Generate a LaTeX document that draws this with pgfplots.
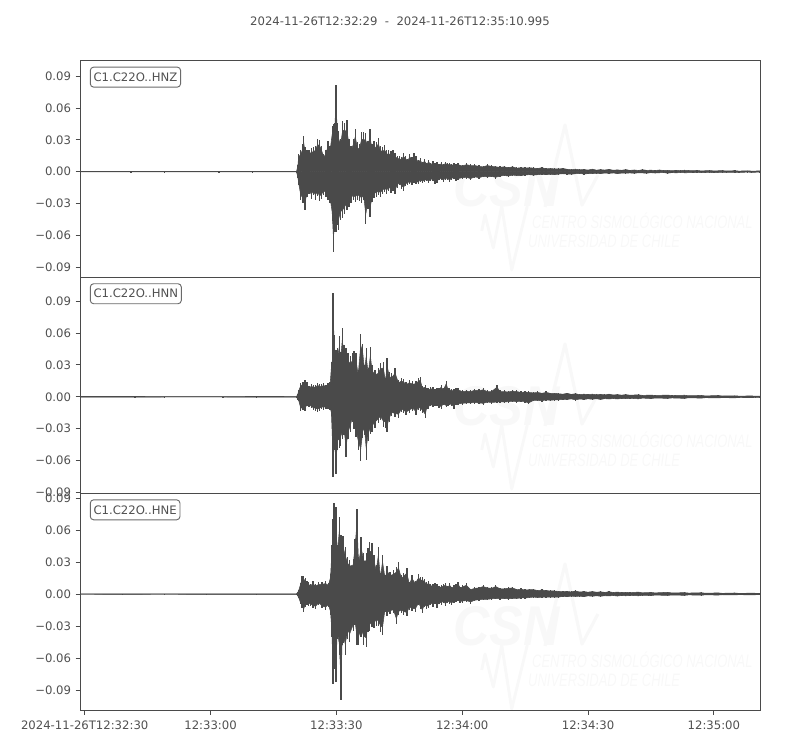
\documentclass[border=0pt]{standalone}
\usepackage{pgfplots}
\usepackage{pgfplotstable}
\usepackage{fontspec}
\pgfplotsset{compat=1.18}
\setmainfont{DejaVu Sans}
\newfontfamily\wmfont{Liberation Sans}
\definecolor{ink}{HTML}{4A4A4A}
\definecolor{txt}{HTML}{505050}
\definecolor{wm}{HTML}{F8F8F8}
\definecolor{boxc}{HTML}{6A6A6A}

% t = seconds after 12:32:29; up, lo = envelope of the trace in units of 0.001
\pgfplotstableread{
t up lo
0 .3 -.3
12 .2 -.2
20 .4 -.4
33 .2 -.2
41 .4 -.4
51.5 .3 -.3
51.8 6 -6
52 16.6 -13
52.5 20 -27
53 26 -30
53.2 33.8 -28
53.5 23 -36.6
54 20 -24
54.5 20.6 -21
55 22 -26
55.5 23 -22.5
56 24.4 -26.6
56.5 31 -23
57 30 -28
57.5 24 -25.7
58 16.6 -22
58.5 20.6 -24
59 29 -27
59.5 24.4 -30
60 43 -47
60.3 45 -76
60.6 46 -57
60.9 81.4 -57
61.2 46 -50.7
61.5 38.5 -55
62 30.7 -46
62.5 48 -44
63 46 -40
63.5 48.5 -36.6
64 30.7 -33.5
64.5 24.4 -30
65 30.7 -27
65.5 40 -29
66 27.5 -26.3
66.5 26 -28
67 37 -30
67.5 37 -27
68 36 -49
68.5 29 -35
69 40 -43
69.5 26 -29
70 29 -25
70.5 27.5 -24
71 32 -22.5
71.5 24.4 -24
72 23 -21
72.5 25 -19.4
73 20 -21
73.5 20.6 -18
74 19 -20
74.5 20 -18
75 17.5 -21
75.5 15 -15
76 15 -13
76.5 13.5 -16
77 17.5 -18
77.5 15 -14
78 12 -12.5
78.5 17 -11.6
79 13.5 -13
79.5 17.5 -11
80 15 -11.6
80.5 11 -12
81 13 -9.5
81.5 9 -11
82 12 -10
82.5 8.5 -9
83 11 -11
83.5 8 -8.5
84 10 -9
84.5 8.5 -12
85 9.5 -11
85.5 7.5 -8
86 9 -8
86.5 7 -9.5
87 9.5 -7.5
87.5 8 -8
88 8.5 -9.5
88.5 7 -7.5
89 8.5 -7
89.5 7 -8.5
90 8 -8
91 6.5 -7
92 8 -6.5
93 7 -8
94 7 -6
95 6 -7
96 5.5 -5.5
97 7 -6
98 6 -5.5
99 5.5 -6.5
100 5 -5
101 5.5 -4.5
102 4.5 -5
103 5.5 -4
104 4 -4.5
105 4.5 -4.5
106 4 -3.8
107 4.5 -3.5
108 4 -4
109 3.5 -3.5
110 4.5 -3
111 3.2 -3.5
112 3.5 -3
113 3.2 -3.5
114 3 -2.8
115 3.6 -2.4
116 2.7 -2.8
117 2.2 -3
118 2.8 -2.4
119 2.1 -2
120 2.4 -2.8
121 1.8 -2.2
122 2.8 -2.3
123 1.7 -1.8
124 2.3 -2.3
125 1.8 -1.6
126 2.6 -2
127 1.6 -1.5
128 2 -2.3
129 1.5 -1.7
130 2.3 -1.8
131 1.4 -1.5
132 1.9 -1.9
133 1.3 -1.3
134 2.2 -1.5
135 1.4 -1.8
136 1.7 -1.2
137 1.2 -1.6
138 1.9 -1.3
139 1.2 -1.1
140 1.5 -1.8
141 1 -1.1
142 1.5 -1.4
143 1.1 -1
144 1.6 -1.3
146 1 -1.2
147 1.4 -.8
148 .8 -1.1
150 1.3 -.9
151 .8 -1.2
153 1.2 -.8
154 .7 -1
156 1.1 -.7
157 .6 -.9
159 1 -.6
160 .6 -.8
162 .8 -.6
}\tableHNZ

\pgfplotstableread{
t up lo
0 .4 -.4
13 .4 -.4
20 .2 -.2
34 .2 -.2
42 .4 -.4
51.5 .3 -.3
51.8 3 -3
52 6.5 -4
52.5 12.8 -13
53 14 -12.5
53.5 15.5 -13
54 14 -9
54.5 9.7 -9.5
55 12 -10.6
55.5 11 -12.5
56 11 -13
56.5 13 -14
57 12 -13
57.5 12 -11.5
58 13 -12
58.5 11.5 -11
59 13 -11
59.5 14 -12
59.8 33 -18
60 36 -42
60.2 98 -75
60.5 58 -50
60.9 44 -73
61.3 46 -50
61.7 57 -48
62 42 -46
62.4 65 -40
62.8 49 -36
63.3 46 -57
63.8 41 -40
64.3 38 -33
64.8 41 -24
65.2 43 -30
65.7 41 -38
66.2 25 -50
66.8 59 -60
67.3 50 -39
67.7 30 -36
68.1 46 -59
68.6 27 -42
69.1 47 -35
69.5 30 -33
70.2 25 -29
71 27 -25
71.5 32 -22
72.2 33 -28
72.7 17.5 -29
73.1 36 -33
73.6 23 -24
74.2 22 -18
75 27 -19
75.8 16 -20
76.5 18 -14
77 17 -15
77.6 14 -17.5
78.4 16 -15
79.2 14.5 -13
80 15 -17
80.5 17.5 -12
81 19 -13
81.5 10 -15
82.2 11 -20
82.6 8.5 -11
83 8 -11
83.5 9 -9
84 9 -10
84.5 7 -8.5
85 8 -9
85.5 8.5 -10.5
86 11 -11
86.5 8 -8
87.2 15 -10
87.6 8 -8.5
88 8 -8
88.5 7 -9
89 7 -11
89.5 8.5 -7.5
90 8 -8
91 6 -7.5
92 6.5 -7
93 6 -7
94 7.5 -6.5
95 7 -7
96 8 -7.5
97 6 -6
98 6 -6.5
99.3 11 -6
100 6 -5.5
101 6 -6
102 5.5 -5.5
103 6.5 -5
104 6 -5.5
105 5 -5
106 5.5 -5.5
106.8 5 -7
108 4.5 -4
109 5 -4
110 4 -4.5
111 5 -3.5
112 4 -4
113 4 -3.5
114 3.5 -3.5
115 3 -2.8
116 4 -3
117 2.8 -2.4
118 3.5 -3.5
119 2.5 -2.5
120 3 -3
121 2.4 -2.3
122 3 -2.8
123 2.3 -2.2
124 2.8 -3
125 2.2 -2.1
126 3 -2.5
127 2.1 -2
128 2.5 -2.5
129 1.9 -1.9
130 2.5 -2.2
131 1.8 -1.7
133 2.3 -2.3
134 1.6 -1.5
136 2 -2
137 1.5 -1.4
140 2 -1.8
141 1.4 -1.3
144 1.8 -1.8
145 1.2 -1.1
148 1.6 -1.5
149 1 -1
152 1.5 -1.3
153 .9 -.9
156 1.2 -1.2
157 .8 -.7
160 1 -1
161 .7 -.6
162 .8 -.6
}\tableHNN

\pgfplotstableread{
t up lo
0 .2 -.2
10 .3 -.3
20 .2 -.2
30 .3 -.3
42 .3 -.3
51.5 .3 -.3
51.8 2 -2
52 4 -4
52.4 10 -9
52.8 17 -13
53.2 17 -17
53.6 15 -12
54 12 -10
54.4 11 -11
54.8 9 -11
55.4 12 -13
56 9 -14
56.8 11 -10
57.6 11 -13.5
58.4 12 -15
59.1 10 -12
59.6 19 -20
59.9 46 -40
60.2 70 -84
60.4 85 -70
60.9 82 -82
61.2 46 -42
61.7 72 -57
62.1 55 -99.5
62.4 54 -48
62.6 54 -46
63.1 44 -57
63.7 35 -42
64.2 32 -45
65 33 -35
65.4 52 -29
65.9 80 -48
66.3 35 -48
66.9 53 -40
67.5 38 -48
68.1 38 -50
68.5 43 -36
68.9 49 -35
69.5 48 -31
70 37 -32
70.5 27 -30
71 44 -30
71.5 19 -36
72 37 -38
72.6 18 -17
73.1 26 -21
73.8 21 -19
74.6 22.5 -18
75.3 25 -28
75.8 30 -20
76.5 18 -18
77 20 -20
77.8 24 -21
78.4 11 -15
79 18 -16
79.8 12 -17
80.6 18.5 -10
81 16 -14
81.5 16 -18
82 14 -12
82.5 11 -14
83 12 -13
83.5 9.5 -10
84 9 -12
84.5 10.5 -9
85 9 -13
85.5 7.5 -9
86 8 -10
86.5 9 -8
87 10 -11
87.5 7.5 -8
88 10 -9
88.5 7 -10
89 8 -8
89.5 9 -7.5
90 11.5 -7
90.5 7 -8.5
91 8 -8
92 10 -7.5
93 5 -9
94 6.5 -7
95 7 -6.5
96 8.5 -6
97 7 -6
98 6.5 -5.5
99 8.5 -5
100 6 -5.5
101 6 -5
102 6.5 -5.5
103 7 -5
104 5 -5
105 5.5 -4.5
106 4.5 -4.5
107 5 -4
108 5 -3.5
109 4 -4
110 4.5 -3.5
111 4 -3.5
112 3.5 -3.5
113 3.5 -3.5
114 3 -3.5
115 2.6 -2.6
116 3 -3
117 2.4 -2.4
118 3.5 -2.8
119 2.3 -2.4
120 2.8 -3
121 2.1 -2.1
122 2.8 -2.5
123 2.1 -2
124 2.5 -2.5
125 1.9 -1.9
126 2.6 -2.2
127 1.8 -1.7
128 2.2 -2.3
129 1.7 -1.6
130 2 -2
131 1.5 -1.5
133 2.2 -2
134 1.4 -1.4
136 1.8 -1.8
137 1.3 -1.2
140 2 -1.6
141 1.2 -1.1
144 1.6 -1.5
145 1.1 -1
148 1.5 -1.4
149 .9 -.9
152 1.3 -1.2
153 .8 -.8
156 1.2 -1
157 .7 -.7
160 1 -1
162 .7 -.6
}\tableHNE

\pgfplotsset{
  panel/.style={
    scale only axis, anchor=south west, width=509.6pt,
    xmin=0, xmax=161.995,
    axis line style={color=ink, line width=.7pt},
    tick style={color=ink, line width=.6pt},
    major tick length=3.6pt,
    tick align=outside,
    ytick pos=left, xtick pos=bottom,
    ytick={-0.09,-0.06,-0.03,0,0.03,0.06,0.09},
    yticklabels={−0.09,−0.06,−0.03,0.00,0.03,0.06,0.09},
    tick label style={font=\fontsize{8.75}{10}\selectfont, color=txt},
    xticklabel style={yshift=-1.2pt},
    clip=true,
  },
  core/.style={draw=ink, fill=ink, line width=.4pt, sharp plot, line join=bevel},
  needle/.style={draw=ink, line width=1pt, ycomb, no marks},
}
\newcommand{\stamp}[1]{\node[draw=boxc, rounded corners=2.5pt, line width=.7pt, fill=white,
    anchor=west, inner xsep=2.4pt, inner ysep=0pt, minimum height=15pt, text=txt,
    font=\fontsize{8.75}{10}\selectfont]
    at (rel axis cs:0.0137,0.9225) {#1};}
% a dense core inside the envelope, with the envelope's values as needles on it
\newcommand{\traces}[1]{%
  \addplot[core] table[x=t, y expr=\thisrow{up}*0.00082] {#1} \closedcycle;
  \addplot[core] table[x=t, y expr=\thisrow{lo}*0.00082] {#1} \closedcycle;
  \addplot[needle] table[x=t, y expr=\thisrow{up}*0.001] {#1};
  \addplot[needle] table[x=t, y expr=\thisrow{lo}*0.001] {#1};}

\begin{document}
\begin{tikzpicture}
\useasboundingbox (0,0) rectangle (600pt,562.5pt);

% faint watermark, in pixel coordinates of the reference
\begin{scope}[shift={(0pt,562.5pt)}, x=0.75pt, y=-0.75pt]
\foreach \d in {0,219,439}{
  \begin{scope}[shift={(0,\d)}]
  \node[anchor=base west, inner sep=0pt, text=wm, xscale=.9,
        font=\wmfont\bfseries\itshape\fontsize{42}{42}\selectfont] at (453,207) {CSN};
  \draw[wm, line width=2.4pt, line join=round] (545,207) -- (565,125) -- (582,205) -- (598,175);
  \draw[wm, line width=2.2pt, line join=round] (481.7,231) -- (485,215) -- (493.3,248) -- (501.7,206) -- (511.7,270) -- (527.3,206);
  \node[anchor=base west, inner sep=0pt, text=wm, xscale=.72,
        font=\wmfont\itshape\fontsize{13.5}{14}\selectfont] at (532,229) {CENTRO SISMOLÓGICO NACIONAL};
  \node[anchor=base west, inner sep=0pt, text=wm, xscale=.72,
        font=\wmfont\itshape\fontsize{13.5}{14}\selectfont] at (528,248) {UNIVERSIDAD DE CHILE};
  \end{scope}
}
\end{scope}

\node[text=txt, font=\fontsize{8.75}{10}\selectfont, anchor=center] at (300pt,546.5pt)
  {2024-11-26T12:32:29\ \ -\ \ 2024-11-26T12:35:10.995};

\begin{axis}[panel, at={(60.4pt,354.75pt)}, height=162.5pt,
  ymin=-0.0994, ymax=0.105, xtick=\empty]
  \traces{\tableHNZ}
  \stamp{C1.C22O..HNZ}
\end{axis}

\begin{axis}[panel, at={(60.4pt,192.75pt)}, height=162pt,
  ymin=-0.0904, ymax=0.1126, xtick=\empty]
  \traces{\tableHNN}
  \stamp{C1.C22O..HNN}
\end{axis}

\begin{axis}[panel, at={(60.4pt,30pt)}, height=162.75pt,
  ymin=-0.1087, ymax=0.0947,
  xtick={1,31,61,91,121,151},
  xticklabels={2024-11-26T12:32:30,12:33:00,12:33:30,12:34:00,12:34:30,12:35:00}]
  \traces{\tableHNE}
  \stamp{C1.C22O..HNE}
\end{axis}
\end{tikzpicture}
\end{document}
